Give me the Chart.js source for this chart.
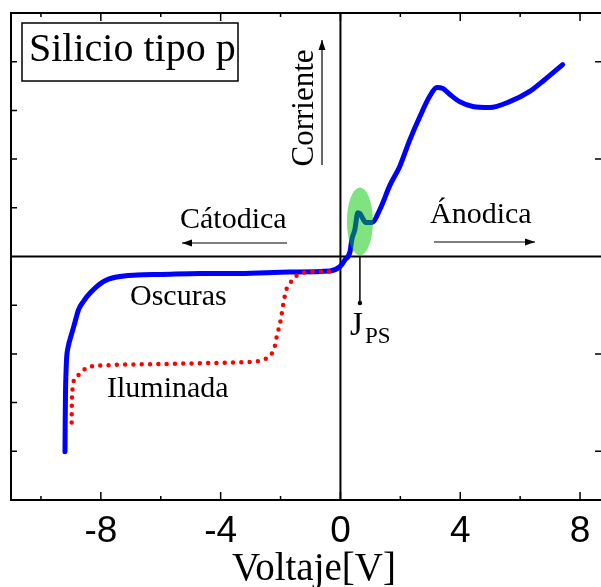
<!DOCTYPE html>
<html>
<head>
<meta charset="utf-8">
<script src="https://cdn.jsdelivr.net/npm/chart.js@4.4.0/dist/chart.umd.min.js"></script>
<style>
  html, body { margin: 0; padding: 0; background: #fff; }
  #wrap { width: 601px; height: 587px; }
</style>
</head>
<body>
<div id="wrap"><canvas id="chart" width="601" height="587"></canvas></div>
<script>
// Curva en oscuridad (azul)
const darkV = [-9.197, -9.19, -9.18, -9.16, -9.14, -9.09, -8.97, -8.86, -8.75, -8.59, -8.36, -7.93, -7.46, -6.79, -6.0, -4.68, -3.36, -1.68, -0.35, -0.02, 0.15, 0.32, 0.38, 0.48, 0.58, 0.65, 0.85, 1.05, 1.32, 1.65, 1.98, 2.32, 2.65, 2.98, 3.22, 3.42, 3.65, 3.98, 4.42, 4.98, 5.65, 6.32, 6.82, 7.42];
const darkI = [-4.01, -3.36, -2.80, -2.33, -2.06, -1.85, -1.58, -1.34, -1.10, -0.93, -0.75, -0.52, -0.42, -0.38, -0.37, -0.35, -0.35, -0.32, -0.30, -0.21, -0.07, 0.10, 0.35, 0.55, 0.90, 0.88, 0.70, 0.70, 0.97, 1.46, 1.85, 2.40, 2.87, 3.29, 3.47, 3.45, 3.33, 3.18, 3.08, 3.06, 3.18, 3.39, 3.63, 3.94];

// Curva iluminada (roja, punteada)
const lightV = [-8.975, -8.97, -8.94, -8.90, -8.70, -8.50, -8.25, -7.69, -5.35, -3.30, -2.74, -2.49, -2.30, -2.19, -2.13, -2.00, -1.91, -1.80, -1.66, -1.48, -1.21, -0.65, -0.37];
const lightI = [-3.41, -3.05, -2.70, -2.54, -2.42, -2.29, -2.25, -2.23, -2.20, -2.17, -2.15, -2.10, -2.00, -1.84, -1.65, -1.32, -0.98, -0.67, -0.53, -0.40, -0.33, -0.31, -0.31];

// Ejes
const xTicks = [-8, -4, 0, 4, 8];
const xMinorTicks = [-10, -6, -2, 2, 6];
const yTicks = [-4, -3, -2, -1, 1, 2, 3, 4];
const yRightTicks = [-4, -2, 2, 4];

const serif = '"Liberation Serif", "Times New Roman", serif';
const sans = '"Liberation Sans", Arial, sans-serif';

function toPoints(xs, ys) {
    return xs.map((x, i) => ({ x: x, y: ys[i] }));
}

function arrow(ctx, x1, y1, x2, y2) {
    ctx.beginPath();
    ctx.moveTo(x1, y1);
    ctx.lineTo(x2, y2);
    ctx.stroke();
    const a = Math.atan2(y2 - y1, x2 - x1);
    const len = 10, w = 3.5;
    ctx.beginPath();
    ctx.moveTo(x2, y2);
    ctx.lineTo(x2 - len * Math.cos(a) + w * Math.sin(a), y2 - len * Math.sin(a) - w * Math.cos(a));
    ctx.lineTo(x2 - len * Math.cos(a) - w * Math.sin(a), y2 - len * Math.sin(a) + w * Math.cos(a));
    ctx.closePath();
    ctx.fill();
}

// Marco, líneas de cero y marcas
const framePlugin = {
    id: 'frame',
    beforeDatasetsDraw(chart) {
        const ctx = chart.ctx;
        const a = chart.chartArea;
        const xs = chart.scales.x, ys = chart.scales.y;
        const x0 = xs.getPixelForValue(0), y0 = ys.getPixelForValue(0);
        ctx.save();
        ctx.strokeStyle = '#000';
        ctx.lineWidth = 2;
        ctx.beginPath();
        ctx.moveTo(x0, a.top); ctx.lineTo(x0, a.bottom);
        ctx.moveTo(a.left, y0); ctx.lineTo(a.right, y0);
        ctx.stroke();
        ctx.restore();
    },
    afterDatasetsDraw(chart) {
        const ctx = chart.ctx;
        const xs = chart.scales.x, ys = chart.scales.y;
        // elipse verde sobre J_PS
        const cx = xs.getPixelForValue(0.65), cy = ys.getPixelForValue(0.72);
        ctx.save();
        ctx.fillStyle = 'rgba(0, 200, 0, 0.5)';
        ctx.beginPath();
        ctx.ellipse(cx, cy, 13, 34, 0, 0, Math.PI * 2);
        ctx.fill();
        ctx.restore();
    },
    afterDraw(chart) {
        const ctx = chart.ctx;
        const a = chart.chartArea;
        const xs = chart.scales.x, ys = chart.scales.y;
        ctx.save();
        ctx.strokeStyle = '#000';
        ctx.fillStyle = '#000';
        ctx.lineWidth = 2;
        ctx.beginPath();
        ctx.moveTo(a.right, a.top); ctx.lineTo(a.left, a.top);
        ctx.lineTo(a.left, a.bottom); ctx.lineTo(a.right, a.bottom);
        ctx.stroke();

        ctx.lineWidth = 1.5;
        ctx.beginPath();
        xTicks.forEach(v => {
            const p = xs.getPixelForValue(v);
            ctx.moveTo(p, a.bottom); ctx.lineTo(p, a.bottom - 8);
            ctx.moveTo(p, a.top); ctx.lineTo(p, a.top + 8);
        });
        xMinorTicks.forEach(v => {
            const p = xs.getPixelForValue(v);
            ctx.moveTo(p, a.bottom); ctx.lineTo(p, a.bottom - 4);
            ctx.moveTo(p, a.top); ctx.lineTo(p, a.top + 4);
        });
        yTicks.forEach(v => {
            const p = ys.getPixelForValue(v);
            ctx.moveTo(a.left, p); ctx.lineTo(a.left + 6, p);
        });
        yRightTicks.forEach(v => {
            const p = ys.getPixelForValue(v);
            ctx.moveTo(a.right, p); ctx.lineTo(a.right - 6, p);
        });
        ctx.stroke();

        // etiquetas del eje x
        ctx.font = '37px ' + sans;
        ctx.textAlign = 'center';
        ctx.textBaseline = 'alphabetic';
        xTicks.forEach(v => {
            ctx.fillText(String(v), xs.getPixelForValue(v), 542);
        });
        ctx.font = '39px ' + serif;
        ctx.fillText('Voltaje[V]', 314, 580);

        // recuadro del título
        ctx.lineWidth = 1.5;
        ctx.strokeRect(22, 23, 216, 58);
        ctx.textAlign = 'left';
        ctx.font = '40px ' + serif;
        ctx.fillText('Silicio tipo p', 29, 61);

        ctx.font = '30px ' + serif;
        ctx.fillText('Cátodica', 180, 228);
        ctx.fillText('Ánodica', 430, 223);
        ctx.fillText('Oscuras', 130, 305);
        ctx.fillText('Iluminada', 107, 397);

        ctx.lineWidth = 1.2;
        arrow(ctx, 287, 243, 182, 243);
        arrow(ctx, 434, 242, 535, 242);
        arrow(ctx, 322, 165, 322, 40);

        ctx.save();
        ctx.translate(313, 108);
        ctx.rotate(-Math.PI / 2);
        ctx.textAlign = 'center';
        ctx.font = '31px ' + serif;
        ctx.fillText('Corriente', 0, 0);
        ctx.restore();

        // marcador J_PS
        const jx = xs.getPixelForValue(0.65);
        ctx.lineWidth = 1.5;
        ctx.beginPath();
        ctx.moveTo(jx, 256); ctx.lineTo(jx, 303);
        ctx.stroke();
        ctx.beginPath();
        ctx.arc(jx, 303, 2.2, 0, Math.PI * 2);
        ctx.fill();
        ctx.font = '33px ' + serif;
        ctx.fillText('J', 350, 335);
        ctx.font = '23px ' + serif;
        ctx.fillText('PS', 365, 343);
        ctx.restore();
    }
};

const ctx = document.getElementById('chart').getContext('2d');
new Chart(ctx, {
    type: 'line',
    data: {
        datasets: [
            {
                label: 'Oscuras',
                data: toPoints(darkV, darkI),
                borderColor: '#0000ff',
                borderWidth: 5,
                borderCapStyle: 'round',
                borderJoinStyle: 'round',
                pointRadius: 0,
                cubicInterpolationMode: 'monotone',
                order: 1,
                fill: false
            },
            {
                label: 'Iluminada',
                data: toPoints(lightV, lightI),
                borderColor: '#ff0000',
                borderWidth: 4.5,
                borderDash: [0, 8.3],
                borderCapStyle: 'round',
                pointRadius: 0,
                cubicInterpolationMode: 'monotone',
                order: 0,
                fill: false
            }
        ]
    },
    options: {
        responsive: false,
        animation: false,
        events: [],
        layout: { padding: { left: 11, top: 13, right: 0, bottom: 87 } },
        plugins: { legend: { display: false }, tooltip: { enabled: false } },
        scales: {
            x: { type: 'linear', min: -11, max: 8.7, display: false },
            y: { type: 'linear', min: -5, max: 5, display: false }
        }
    },
    plugins: [framePlugin]
});
</script>
</body>
</html>
